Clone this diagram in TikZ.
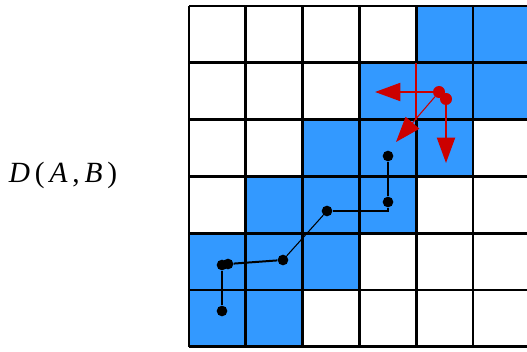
\documentclass[tikz,border=0pt]{standalone}
\usepackage{fontspec}
\setmainfont{Liberation Serif}
\usetikzlibrary{arrows.meta}
\definecolor{cellblue}{RGB}{51,153,255}
\definecolor{movered}{RGB}{204,0,0}
\begin{document}
\begin{tikzpicture}
  [x=0.75pt,y=-0.75pt,
   dot/.style={circle,fill=black,inner sep=0pt,minimum size=8pt},
   reddot/.style={circle,fill=movered,inner sep=0pt,minimum size=9pt},
   move/.style={movered,line width=1.5pt,-{Triangle[length=19pt,width=13.5pt]}}]
  \useasboundingbox (0,0) rectangle (527,352);
  \clip (0,0) rectangle (527,352);

  % blue cells, column/row from top left
  \foreach \c/\r in {4/0,5/0,3/1,4/1,5/1,2/2,3/2,4/2,1/3,2/3,3/3,0/4,1/4,2/4,0/5,1/5}
    \fill[cellblue] (189+56.8*\c,6+56.8*\r) rectangle ++(56.8,56.8);

  \foreach \i in {0,...,6} {
    \draw[line width=2.2pt] (189+56.8*\i,6) -- (189+56.8*\i,346.8);
    \draw[line width=2.2pt] (189,6+56.8*\i) -- (529.8,6+56.8*\i);
  }
  \draw[cellblue,line width=2.6pt] (416.2,64.5) -- (416.2,118);
  \draw[movered,line width=1.1pt] (416.2,63) -- (416.2,119.6);

  \node (dist) at (63,175) {\fontsize{22}{26}\selectfont \textit{D}\,(\,\textit{A}\,,\,\textit{B}\,)};

  \node[dot] (p1) at (222,311) {};
  \node[dot] (p2) at (222,265) {};
  \node[dot] (p3) at (228,264) {};
  \node[dot] (p4) at (283,260) {};
  \node[dot] (p5) at (327,211) {};
  \node[dot] (p6) at (388,202) {};
  \node[dot] (p7) at (388,156) {};

  \draw[line width=1.5pt] (p1) -- (p2);
  \draw[line width=1.5pt] (p3) -- (p4);
  \draw[line width=0.8pt] (p4) -- (p5);
  \draw[line width=1.5pt] (p5) -| (p6);
  \draw[line width=1.5pt] (p6) -- (p7);

  \node[reddot] (r1) at (439,92) {};
  \node[reddot] (r2) at (446,99) {};
  \coordinate (west) at (375,92);
  \coordinate (southwest) at (396,142);
  \coordinate (south) at (446,163);

  \draw[move] (r1) -- (west);
  \draw[move,line width=0.8pt] (r1) -- (southwest);
  \draw[move] (r2) -- (south);

 \end{tikzpicture}
\end{document}
